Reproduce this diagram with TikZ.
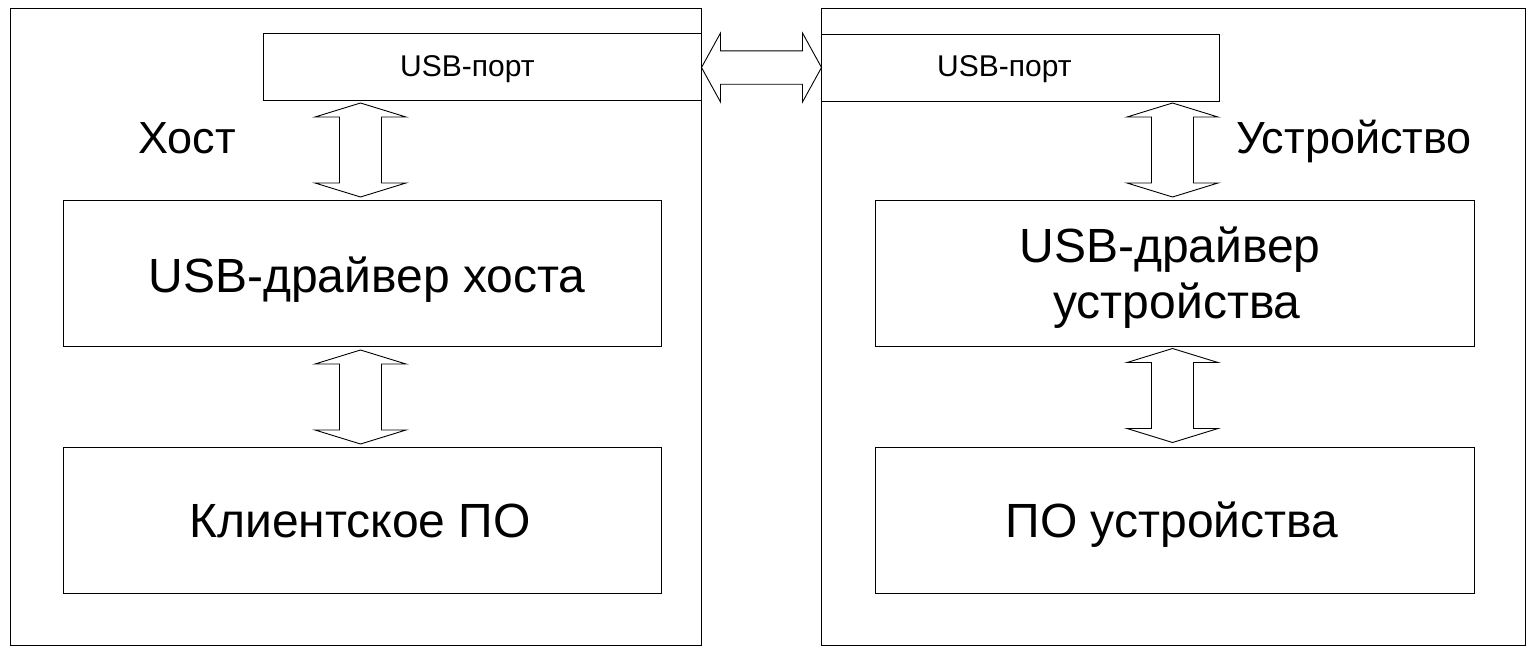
\documentclass[tikz,border=0pt]{standalone}
\usepackage{fontspec}
\setmainfont{Liberation Sans}
\usetikzlibrary{calc}
\begin{document}
\begin{tikzpicture}[x=1pt,y=-1pt,
  box/.style={draw, line width=1pt, inner sep=0pt, rectangle, anchor=north west},
  arr/.style={draw, line width=0.9pt, line join=miter},
  big/.style={anchor=base, inner sep=0pt, font=\fontsize{48}{56}\selectfont},
  mid/.style={anchor=base, inner sep=0pt, font=\fontsize{45}{52}\selectfont},
  small/.style={anchor=base west, inner sep=0pt, font=\fontsize{30}{36}\selectfont},
  varr/.pic={\draw[arr] (0,-47) -- (45.5,-33) -- (21,-33) -- (21,33) -- (45.5,33) -- (0,47)
     -- (-45.5,33) -- (-21,33) -- (-21,-33) -- (-45.5,-33) -- cycle;},
  harr/.pic={\draw[arr] (-60,0) -- (-41,-34.5) -- (-41,-16.7) -- (41,-16.7) -- (41,-34.5) -- (60,0)
     -- (41,34.5) -- (41,16.7) -- (-41,16.7) -- (-41,34.5) -- cycle;}
]
\useasboundingbox (0,0) rectangle (1533,646);
% outer boxes
\node[box, minimum width=691pt, minimum height=637pt] (host) at (10,8) {};
\node[box, minimum width=704pt, minimum height=637pt] (dev) at (821,8) {};
% ports
\node[box, minimum width=438pt, minimum height=67pt] (port1) at (263,33) {};
\node[box, minimum width=398pt, minimum height=67pt] (port2) at (821,34) {};
% drivers
\node[box, minimum width=598pt, minimum height=146pt] (drv1) at (63,200) {};
\node[box, minimum width=599pt, minimum height=146pt] (drv2) at (875,200) {};
% software
\node[box, minimum width=598pt, minimum height=146pt] (cli) at (63,447) {};
\node[box, minimum width=599pt, minimum height=146pt] (po) at (875,447) {};
% arrows
\pic at ($(port1.east)!0.5!(port2.west)$) {harr};
\pic at ($(drv1.north)+(-2,-50)$) {varr};
\pic at ($(drv1.south)!0.5!(cli.north)+(-2,0)$) {varr};
\pic at ($(drv2.north)+(-2.5,-50)$) {varr};
\pic at ($(drv2.south)!0.5!(po.north)+(-2.5,-1.5)$) {varr};
% texts
\node[small] (t1) at (400,76) {USB-порт};
\node[small] (t2) at (937,76) {USB-порт};
\node[mid] (thost) at (187,153) {Хост};
\node[mid] (tdev) at (1354,153) {Устройство};
\node[big] (tdrv1) at (367,292) {USB-драйвер хоста};
\node[big] (tdrv2a) at (1170,262) {USB-драйвер};
\node[big] (tdrv2b) at (1177,318) {устройства};
\node[big] (tcli) at (360,537) {Клиентское ПО};
\node[big] (tpo) at (1172,537) {ПО устройства};
\end{tikzpicture}
\end{document}
